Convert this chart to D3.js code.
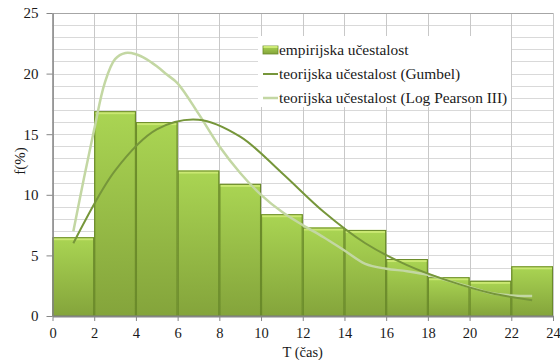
<!DOCTYPE html>
<html>
<head>
<meta charset="utf-8">
<script src="https://cdn.jsdelivr.net/npm/d3@7"></script>
<style>
  html, body { margin: 0; padding: 0; background: #fff; }
  svg { display: block; }
  text { font-family: "Liberation Serif", "DejaVu Serif", serif; fill: #1a1a1a; }
</style>
</head>
<body>
<svg id="chart" width="560" height="360"></svg>
<script>
// Histogram bins (hours) and empirical frequency (%)
const binStarts = [0, 2, 4, 6, 8, 10, 12, 14, 16, 18, 20, 22];
const binWidth = 2;
const empirical = [6.5, 16.9, 16.0, 12.0, 10.9, 8.4, 7.3, 7.1, 4.7, 3.2, 2.9, 4.1];

// Gumbel curve evaluated at bin midpoints
const gumbelX = [1, 3, 5, 7, 9, 11, 13, 15, 17, 19, 21, 23];
const gumbel = [6.0, 12.0, 15.4, 16.2, 14.8, 11.8, 8.6, 6.0, 4.2, 2.9, 1.9, 1.3];

// Log Pearson III curve, sampled more densely
const logPearsonX = [1, 1.5, 2, 2.5, 3, 3.5, 4, 4.5, 5, 5.5, 6, 7, 8, 9, 10, 11, 12, 13, 14, 15, 16, 17, 18, 19, 20, 21, 22, 23];
const logPearson = [7.0, 11.3, 15.4, 19.2, 21.2, 21.7, 21.6, 21.2, 20.6, 19.9, 19.2, 16.7, 14.0, 11.8, 10.0, 8.6, 7.5, 6.5, 5.4, 4.3, 3.9, 3.7, 3.4, 2.9, 2.4, 1.9, 1.7, 1.65];

const xTicks = [0, 2, 4, 6, 8, 10, 12, 14, 16, 18, 20, 22, 24];
const yTicks = [0, 5, 10, 15, 20, 25];
const yMinor = d3.range(0, 26, 1);

const seriesNames = [
  "empirijska učestalost",
  "teorijska učestalost (Gumbel)",
  "teorijska učestalost (Log Pearson III)"
];

const svg = d3.select("#chart");
const plotLeft = 52.5, plotRight = 553, plotTop = 13, plotBottom = 316;

const x = d3.scaleLinear().domain([0, 24]).range([plotLeft, plotRight]);
const y = d3.scaleLinear().domain([0, 25]).range([plotBottom, plotTop]);

// Gradients for the bars
const defs = svg.append("defs");
const grad = defs.append("linearGradient")
  .attr("id", "barGrad").attr("x1", 0).attr("y1", 0).attr("x2", 0).attr("y2", 1);
grad.append("stop").attr("offset", "0%").attr("stop-color", "#aad553");
grad.append("stop").attr("offset", "100%").attr("stop-color", "#84a43b");

const edgeGrad = defs.append("linearGradient")
  .attr("id", "edgeGrad").attr("x1", 0).attr("y1", 0).attr("x2", 1).attr("y2", 0);
edgeGrad.append("stop").attr("offset", "0%").attr("stop-color", "#5f7f22").attr("stop-opacity", 0.55);
edgeGrad.append("stop").attr("offset", "4%").attr("stop-color", "#5f7f22").attr("stop-opacity", 0);
edgeGrad.append("stop").attr("offset", "96%").attr("stop-color", "#5f7f22").attr("stop-opacity", 0);
edgeGrad.append("stop").attr("offset", "100%").attr("stop-color", "#5f7f22").attr("stop-opacity", 0.55);

// Minor horizontal gridlines
svg.append("g").selectAll("line").data(yMinor).join("line")
  .attr("x1", plotLeft).attr("x2", plotRight)
  .attr("y1", d => Math.round(y(d)) + 0.5).attr("y2", d => Math.round(y(d)) + 0.5)
  .attr("stroke", "#d9d9d9").attr("stroke-width", 1);

// Vertical gridlines
svg.append("g").selectAll("line").data(xTicks).join("line")
  .attr("x1", d => Math.round(x(d)) + 0.5).attr("x2", d => Math.round(x(d)) + 0.5)
  .attr("y1", plotTop).attr("y2", plotBottom)
  .attr("stroke", "#c8c8c8").attr("stroke-width", 1);

// Top border line
svg.append("line")
  .attr("x1", plotLeft).attr("x2", plotRight)
  .attr("y1", Math.round(y(25)) + 0.5).attr("y2", Math.round(y(25)) + 0.5)
  .attr("stroke", "#a6a6a6");

// Bars
const bars = svg.append("g");
binStarts.forEach((b, i) => {
  const x0 = x(b), x1 = x(b + binWidth);
  const yt = y(empirical[i]);
  bars.append("rect")
    .attr("x", x0).attr("y", yt).attr("width", x1 - x0).attr("height", plotBottom - yt)
    .attr("fill", "url(#barGrad)");
  bars.append("rect")
    .attr("x", x0).attr("y", yt).attr("width", x1 - x0).attr("height", plotBottom - yt)
    .attr("fill", "url(#edgeGrad)");
  bars.append("rect")
    .attr("x", x0 + 1).attr("y", yt).attr("width", x1 - x0 - 2).attr("height", 3)
    .attr("fill", "#cdea76").attr("opacity", 0.9);
  bars.append("rect")
    .attr("x", x0 + 0.5).attr("y", yt + 0.5).attr("width", x1 - x0 - 1).attr("height", plotBottom - yt - 0.5)
    .attr("fill", "none").attr("stroke", "#6a8a2a").attr("stroke-width", 1);
});

// Axes
const xAxis = d3.axisBottom(x).tickValues(xTicks).tickSize(5).tickSizeOuter(0).tickPadding(7);
const gx = svg.append("g").attr("transform", `translate(0,${plotBottom})`).call(xAxis);
gx.select(".domain").attr("stroke", "#868686").attr("stroke-width", 2);
gx.selectAll(".tick line").attr("stroke", "#868686");
gx.selectAll(".tick text").attr("font-size", 14.5).attr("fill", "#1a1a1a")
  .attr("font-family", "Liberation Serif, serif");

const yAxis = d3.axisLeft(y).tickValues(yTicks).tickSize(6).tickSizeOuter(0).tickPadding(8);
const gy = svg.append("g").attr("transform", `translate(${plotLeft},0)`).call(yAxis);
gy.select(".domain").attr("stroke", "#868686").attr("stroke-width", 1.5);
gy.selectAll(".tick line").attr("stroke", "#868686");
gy.selectAll(".tick text").attr("font-size", 15).attr("fill", "#1a1a1a")
  .attr("font-family", "Liberation Serif, serif");

// Curves
const lineFor = xs => d3.line()
  .x((d, i) => x(xs[i]))
  .y(d => y(d))
  .curve(d3.curveCatmullRom.alpha(0.5));

svg.append("path").datum(logPearson)
  .attr("d", lineFor(logPearsonX)).attr("fill", "none")
  .attr("stroke", "#c3d7a3").attr("stroke-width", 2.5);
svg.append("path").datum(gumbel)
  .attr("d", lineFor(gumbelX)).attr("fill", "none")
  .attr("stroke", "#76963a").attr("stroke-width", 2);

// Axis titles
svg.append("text")
  .attr("x", (plotLeft + plotRight) / 2).attr("y", 357)
  .attr("text-anchor", "middle").attr("font-size", 14.5)
  .text("T (čas)");
svg.append("text")
  .attr("transform", `translate(25,${161}) rotate(-90)`)
  .attr("text-anchor", "middle").attr("font-size", 15)
  .text("f(%)");

// Legend
const legend = svg.append("g");
legend.append("rect")
  .attr("x", 258).attr("y", 36).attr("width", 253).attr("height", 71)
  .attr("fill", "#fff");
const rowY = [50, 74, 98];
legend.append("rect")
  .attr("x", 263).attr("y", rowY[0] - 4).attr("width", 15).attr("height", 8)
  .attr("fill", "url(#barGrad)").attr("stroke", "#6a8a2a").attr("stroke-width", 0.8);
legend.append("rect")
  .attr("x", 263.5).attr("y", rowY[0] - 4).attr("width", 14).attr("height", 2)
  .attr("fill", "#cdea76");
legend.append("line")
  .attr("x1", 263).attr("x2", 278).attr("y1", rowY[1]).attr("y2", rowY[1])
  .attr("stroke", "#76963a").attr("stroke-width", 2);
legend.append("line")
  .attr("x1", 263).attr("x2", 278).attr("y1", rowY[2]).attr("y2", rowY[2])
  .attr("stroke", "#c3d7a3").attr("stroke-width", 2.5);
legend.selectAll("text.lg").data(seriesNames).join("text")
  .attr("class", "lg")
  .attr("x", 279).attr("y", (d, i) => rowY[i])
  .attr("dy", "0.35em").attr("font-size", 15.4)
  .text(d => d);
</script>
</body>
</html>
